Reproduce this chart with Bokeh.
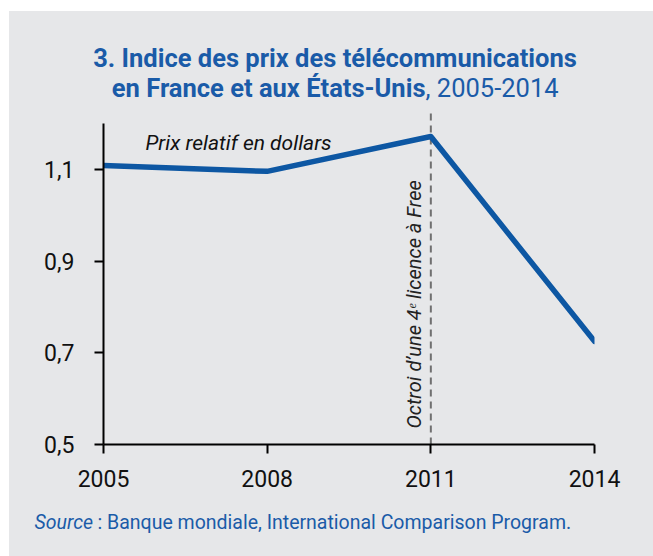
from bokeh.plotting import figure
from bokeh.models import Label, FixedTicker, ColumnDataSource
from bokeh.layouts import column
from bokeh.embed import file_html
from bokeh.resources import INLINE
import math

# ---- data ----
years = [2005, 2008, 2011, 2014]
prix_relatif = [1.109, 1.096, 1.172, 0.725]
event_year = [2011]
y_ticks = [0.5, 0.7, 0.9, 1.1]
y_tick_labels = ["0,5", "0,7", "0,9", "1,1"]
x_ticks = [2005, 2008, 2011, 2014]

BG = "#e6e7e9"
BLUE = "#0d57a3"
TBLUE = "#1a5ba8"
FONT = "Roboto"
W = 644


def panel(h):
    f = figure(width=W, height=h, output_backend="svg", toolbar_location=None,
               x_range=(0, W), y_range=(0, h), x_axis_location=None, y_axis_location=None,
               min_border=0, min_border_left=0, min_border_right=0,
               min_border_top=0, min_border_bottom=0)
    f.frame_align = False
    f.background_fill_color = BG
    f.border_fill_color = BG
    f.outline_line_color = None
    f.grid.visible = False
    return f


# ---- header (title) ----
head = panel(98)
head.add_layout(Label(x=325.5, y=37, text="3. Indice des prix des t\u00e9l\u00e9communications",
                      text_font=FONT, text_font_style="bold", text_font_size="25.5px",
                      text_color=TBLUE, text_align="center"))
head.add_layout(Label(x=416, y=7, text="en France et aux \u00c9tats-Unis",
                      text_font=FONT, text_font_style="bold", text_font_size="25.5px",
                      text_color=TBLUE, text_align="right"))
head.add_layout(Label(x=416, y=7, text=", 2005-2014",
                      text_font=FONT, text_font_size="25.5px",
                      text_color=TBLUE, text_align="left"))

# ---- main chart ----
p = figure(width=W, height=391, output_backend="svg", toolbar_location=None,
           x_range=(2005, 2014), y_range=(0.5, 1.231),
           min_border_left=94, min_border_right=59, min_border_top=0, min_border_bottom=56)
p.frame_align = False
p.background_fill_color = BG
p.border_fill_color = BG
p.outline_line_color = None
p.grid.visible = False

for ax in (p.xaxis[0], p.yaxis[0]):
    ax.axis_line_color = "black"
    ax.axis_line_width = 2
    ax.major_tick_line_color = "black"
    ax.major_tick_line_width = 2
    ax.major_tick_in = 0
    ax.major_tick_out = 9
    ax.minor_tick_line_color = None
    ax.major_label_text_font = FONT
    ax.major_label_text_font_size = "23px"
    ax.major_label_text_color = "#111111"

p.yaxis[0].bounds = (0.5, 1.2)
p.yaxis[0].ticker = FixedTicker(ticks=y_ticks)
p.yaxis[0].major_label_overrides = {t: l for t, l in zip(y_ticks, y_tick_labels)}
p.yaxis[0].major_label_standoff = 20
p.xaxis[0].ticker = FixedTicker(ticks=x_ticks)
p.xaxis[0].major_label_overrides = {t: str(t) for t in x_ticks}
p.xaxis[0].major_label_standoff = 16

src_ev = ColumnDataSource(dict(x=event_year, y0=[0.5], y1=[1.231]))
p.segment(x0="x", y0="y0", x1="x", y1="y1", source=src_ev,
          line_color="#707070", line_width=2, line_dash="7 5")

p.line(years, prix_relatif, line_color=BLUE, line_width=5.5, line_cap="round", line_join="round")

p.add_layout(Label(x=2005.77, y=1.1328, text="Prix relatif en dollars", text_font=FONT,
                   text_font_style="italic", text_font_size="21px", text_color="#111111"))
p.add_layout(Label(x=2010.70, y=0.5349, angle=math.pi / 2,
                   text="Octroi d\u2019une 4\u1d49 licence \u00e0 Free",
                   text_font=FONT, text_font_style="italic", text_font_size="20px",
                   text_color="#222222", text_align="left", text_baseline="alphabetic"))

# ---- footer (source) ----
foot = panel(56)
foot.add_layout(Label(x=25, y=23, text="Source", text_font=FONT, text_font_style="italic",
                      text_font_size="19.5px", text_color=TBLUE))
foot.add_layout(Label(x=88, y=23, text=": Banque mondiale, International Comparison Program.",
                      text_font=FONT, text_font_size="19.5px", text_color=TBLUE))

layout = column(head, p, foot, spacing=0, margin=(11, 0, 0, 9),
                styles={"background-color": BG})
open("out.html", "w").write(file_html(layout, INLINE))
